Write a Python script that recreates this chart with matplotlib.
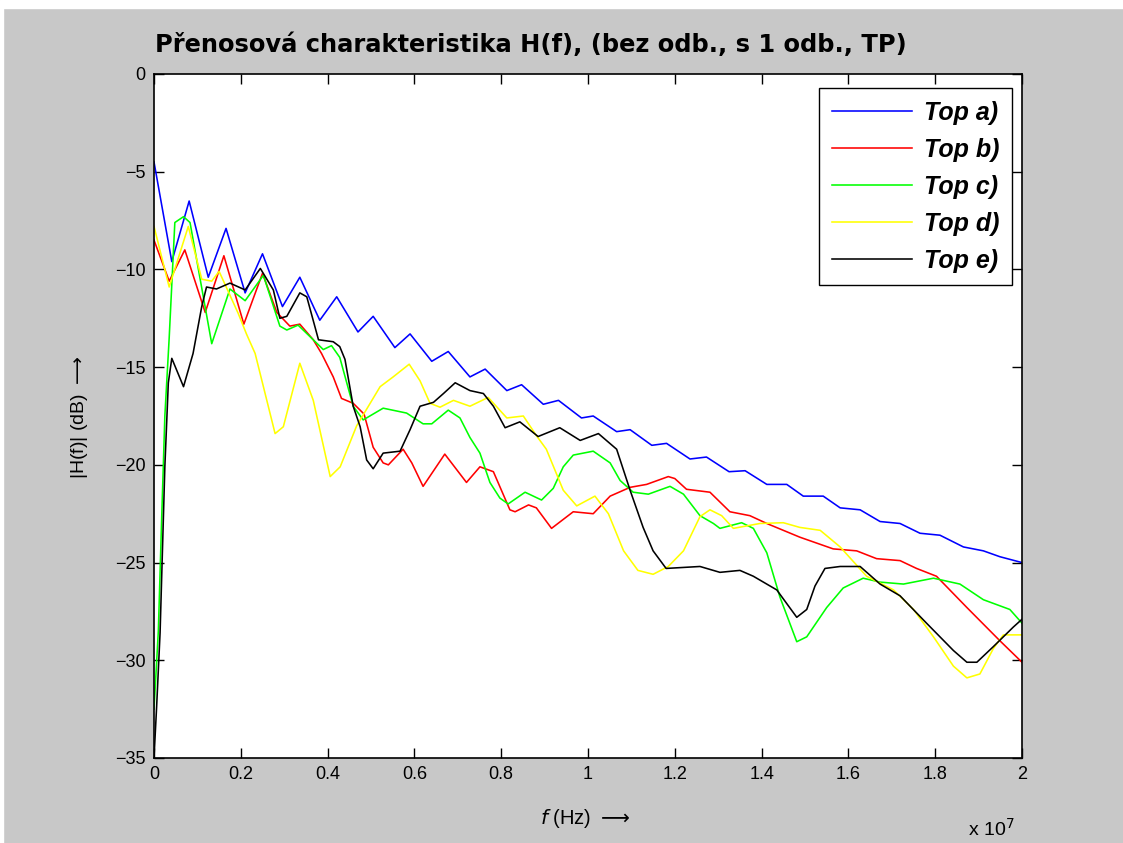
import matplotlib
matplotlib.use("Agg")
import matplotlib.pyplot as plt
from matplotlib.patches import Rectangle

# frequency in units of 1e7 Hz, magnitude in dB
f_a = [0, 0.041, 0.081, 0.125, 0.166, 0.21, 0.25, 0.296, 0.336, 0.382, 0.421, 0.47, 0.505,
       0.555, 0.59, 0.64, 0.678, 0.728, 0.763, 0.813, 0.847, 0.897, 0.932, 0.985, 1.012,
       1.066, 1.097, 1.147, 1.181, 1.235, 1.273, 1.325, 1.362, 1.412, 1.458, 1.496, 1.542,
       1.581, 1.627, 1.673, 1.719, 1.765, 1.811, 1.865, 1.911, 1.949, 2.0]
h_a = [-4.5, -9.6, -6.5, -10.4, -7.9, -11.2, -9.2, -11.9, -10.4, -12.6, -11.4, -13.2, -12.4,
       -14.0, -13.3, -14.7, -14.2, -15.5, -15.1, -16.2, -15.9, -16.9, -16.7, -17.6, -17.5,
       -18.3, -18.2, -19.0, -18.9, -19.7, -19.6, -20.35, -20.3, -21.0, -21.0, -21.6, -21.6,
       -22.2, -22.3, -22.9, -23.0, -23.5, -23.6, -24.2, -24.4, -24.7, -25.0]

f_b = [0, 0.035, 0.071, 0.118, 0.161, 0.207, 0.25, 0.283, 0.313, 0.336, 0.367, 0.386, 0.413,
       0.432, 0.459, 0.484, 0.505, 0.528, 0.54, 0.574, 0.594, 0.62, 0.67, 0.72, 0.751, 0.782,
       0.82, 0.832, 0.863, 0.881, 0.916, 0.966, 1.012, 1.051, 1.097, 1.135, 1.185, 1.2, 1.227,
       1.281, 1.327, 1.373, 1.412, 1.488, 1.565, 1.619, 1.665, 1.719, 1.757, 1.803, 1.873,
       1.949, 2.0]
h_b = [-8.5, -10.6, -9.0, -12.2, -9.3, -12.8, -10.2, -12.2, -12.9, -12.8, -13.6, -14.3, -15.5,
       -16.6, -16.85, -17.4, -19.1, -19.9, -20.0, -19.2, -19.9, -21.1, -19.45, -20.9, -20.1,
       -20.35, -22.3, -22.4, -22.05, -22.2, -23.25, -22.4, -22.5, -21.6, -21.15, -21.0, -20.6,
       -20.7, -21.25, -21.4, -22.4, -22.6, -23.0, -23.7, -24.3, -24.4, -24.8, -24.9, -25.3,
       -25.7, -27.3, -29.0, -30.1]

f_c = [0, 0.01, 0.018, 0.025, 0.035, 0.048, 0.068, 0.083, 0.133, 0.175, 0.21, 0.252, 0.29,
       0.306, 0.332, 0.367, 0.39, 0.409, 0.428, 0.459, 0.482, 0.528, 0.582, 0.62, 0.64, 0.678,
       0.705, 0.728, 0.751, 0.774, 0.797, 0.816, 0.855, 0.893, 0.92, 0.943, 0.966, 1.012,
       1.051, 1.074, 1.104, 1.139, 1.189, 1.22, 1.258, 1.289, 1.304, 1.354, 1.381, 1.412,
       1.442, 1.481, 1.504, 1.55, 1.588, 1.634, 1.673, 1.727, 1.796, 1.857, 1.911, 1.972, 2.0]
h_c = [-32.5, -28.5, -22.5, -17.5, -13.5, -7.6, -7.3, -7.6, -13.8, -11.0, -11.6, -10.3, -12.9,
       -13.1, -12.85, -13.6, -14.1, -13.9, -14.5, -17.0, -17.7, -17.1, -17.35, -17.9, -17.9,
       -17.2, -17.6, -18.6, -19.4, -20.9, -21.7, -22.0, -21.4, -21.8, -21.2, -20.1, -19.5,
       -19.3, -19.9, -20.8, -21.4, -21.5, -21.1, -21.5, -22.6, -23.0, -23.25, -22.96, -23.25,
       -24.5, -26.75, -29.05, -28.8, -27.3, -26.3, -25.8, -26.0, -26.1, -25.8, -26.1, -26.9,
       -27.4, -28.1]

f_d = [0, 0.035, 0.079, 0.11, 0.133, 0.15, 0.194, 0.213, 0.233, 0.279, 0.298, 0.336, 0.367,
       0.406, 0.429, 0.467, 0.521, 0.551, 0.588, 0.613, 0.636, 0.659, 0.69, 0.728, 0.77,
       0.813, 0.851, 0.881, 0.904, 0.943, 0.974, 1.016, 1.047, 1.082, 1.115, 1.15, 1.185,
       1.22, 1.258, 1.281, 1.308, 1.335, 1.396, 1.45, 1.488, 1.535, 1.581, 1.642, 1.704,
       1.75, 1.796, 1.842, 1.873, 1.903, 1.934, 1.957, 2.0]
h_d = [-7.8, -10.9, -7.8, -10.5, -10.6, -10.1, -12.25, -13.3, -14.3, -18.4, -18.05, -14.8,
       -16.7, -20.6, -20.1, -18.0, -16.0, -15.5, -14.85, -15.7, -16.85, -17.05, -16.7, -17.0,
       -16.55, -17.6, -17.5, -18.5, -19.2, -21.3, -22.1, -21.6, -22.5, -24.4, -25.4, -25.6,
       -25.2, -24.4, -22.65, -22.3, -22.6, -23.25, -23.0, -22.96, -23.2, -23.35, -24.2, -25.7,
       -26.4, -27.4, -28.8, -30.3, -30.9, -30.7, -29.4, -28.7, -28.7]

f_e = [0, 0.006, 0.014, 0.025, 0.033, 0.041, 0.068, 0.09, 0.11, 0.121, 0.144, 0.175, 0.21,
       0.245, 0.275, 0.29, 0.306, 0.336, 0.352, 0.379, 0.413, 0.428, 0.44, 0.459, 0.475, 0.49,
       0.505, 0.528, 0.567, 0.59, 0.613, 0.644, 0.667, 0.694, 0.728, 0.759, 0.782, 0.809,
       0.843, 0.885, 0.935, 0.982, 1.024, 1.066, 1.097, 1.127, 1.15, 1.18, 1.258, 1.304,
       1.35, 1.381, 1.435, 1.458, 1.481, 1.504, 1.523, 1.546, 1.581, 1.627, 1.673, 1.719,
       1.78, 1.842, 1.873, 1.896, 1.934, 1.98, 2.0]
h_e = [-35, -32.4, -28.6, -20.1, -15.8, -14.55, -16.0, -14.3, -11.9, -10.9, -11.0, -10.7,
       -11.05, -9.95, -11.05, -12.5, -12.4, -11.2, -11.4, -13.6, -13.7, -13.95, -14.6, -17.0,
       -18.05, -19.75, -20.2, -19.4, -19.3, -18.2, -17.0, -16.8, -16.35, -15.8, -16.2, -16.35,
       -17.0, -18.1, -17.8, -18.55, -18.1, -18.75, -18.4, -19.2, -21.3, -23.2, -24.4, -25.3,
       -25.2, -25.5, -25.4, -25.7, -26.4, -27.1, -27.8, -27.4, -26.2, -25.3, -25.2, -25.2,
       -26.1, -26.7, -28.1, -29.5, -30.1, -30.1, -29.3, -28.3, -27.9]

labels = ['Top a)', 'Top b)', 'Top c)', 'Top d)', 'Top e)']
colors = ['#0000ff', '#ff0000', '#00ff00', '#ffff00', '#000000']
xticks = [0, 0.2, 0.4, 0.6, 0.8, 1, 1.2, 1.4, 1.6, 1.8, 2]
xticklabels = ['0', '0.2', '0.4', '0.6', '0.8', '1', '1.2', '1.4', '1.6', '1.8', '2']
yticks = [-35, -30, -25, -20, -15, -10, -5, 0]

plt.rcParams['font.family'] = ['Liberation Sans', 'DejaVu Sans']

W, H = 1123, 843
fig = plt.figure(figsize=(W / 100, H / 100), dpi=100, facecolor='#c8c8c8')
fig.patches.append(Rectangle((0, 1 - 8 / H), 1, 8 / H, transform=fig.transFigure,
                             color='white', zorder=0))
fig.patches.append(Rectangle((0, 0), 3 / W, 1, transform=fig.transFigure,
                             color='white', zorder=0))

ax = fig.add_axes([154 / W, 1 - 758 / H, 868 / W, 684 / H])
series = [(f_a, h_a), (f_b, h_b), (f_c, h_c), (f_d, h_d), (f_e, h_e)]
for (f, h), c, lab in zip(series, colors, labels):
    ax.plot(f, h, color=c, lw=1.15, label=lab, solid_joinstyle='round')

ax.set_xlim(0, 2)
ax.set_ylim(-35, 0)
ax.set_xticks(xticks)
ax.set_xticklabels(xticklabels)
ax.set_yticks(yticks)
ax.tick_params(direction='in', length=7, width=1, top=True, right=True,
               labelsize=13, pad=6)
for s in ax.spines.values():
    s.set_linewidth(1.2)

leg = ax.legend(loc='upper right', bbox_to_anchor=(0.9885, 0.9795), borderaxespad=0,
                fancybox=False, framealpha=1, edgecolor='black', handlelength=3.2,
                handletextpad=0.5, labelspacing=0.52, borderpad=0.5,
                prop={'size': 18, 'weight': 'bold', 'style': 'italic'})
leg.get_frame().set_linewidth(1.0)

fig.text(155 / W, 1 - 45 / H, 'Přenosová charakteristika H(f), (bez odb., s 1 odb., TP)',
         ha='left', va='center', fontsize=17.4, fontweight='bold', family='DejaVu Sans')
fig.text(80 / W, 1 - 417 / H, r'|H(f)| (dB) $\longrightarrow$', rotation=90,
         ha='center', va='center', fontsize=14)
fig.text(585 / W, 1 - 819 / H, r'$f$ (Hz) $\longrightarrow$', ha='center', va='center',
         fontsize=14.5)
fig.text(991 / W, 1 - 829 / H, r'x 10$^{7}$', ha='center', va='center', fontsize=14)

fig.savefig('out.png', dpi=100, facecolor=fig.get_facecolor())
